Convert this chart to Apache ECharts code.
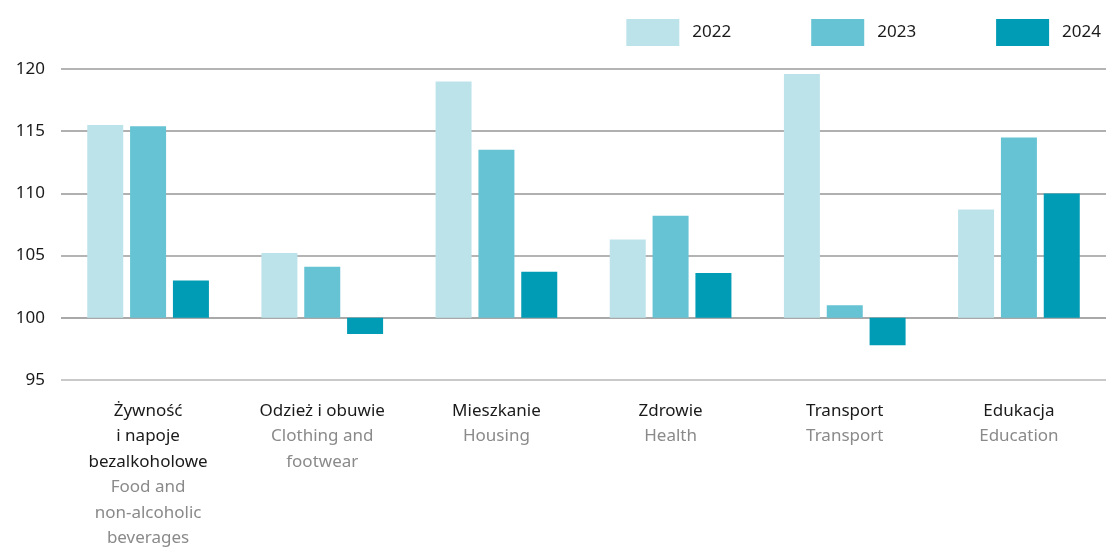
<!DOCTYPE html>
<html>
<head>
<meta charset="utf-8">
<script src="https://cdn.jsdelivr.net/npm/echarts@6/dist/echarts.min.js"></script>
<style>
  html, body { margin: 0; padding: 0; background: #fff; }
  #chart { width: 1106px; height: 548px; }
</style>
</head>
<body>
<div id="chart"></div>
<script>
// categories (Polish / English)
const categoriesPl = [
  ["Żywność", "i napoje", "bezalkoholowe"],
  ["Odzież i obuwie"],
  ["Mieszkanie"],
  ["Zdrowie"],
  ["Transport"],
  ["Edukacja"]
];
const categoriesEn = [
  ["Food and", "non-alcoholic", "beverages"],
  ["Clothing and", "footwear"],
  ["Housing"],
  ["Health"],
  ["Transport"],
  ["Education"]
];

// index values, previous year = 100
const values2022 = [115.5, 105.2, 119.0, 106.3, 119.6, 108.7];
const values2023 = [115.4, 104.1, 113.5, 108.2, 101.0, 114.5];
const values2024 = [103.0, 98.7, 103.7, 103.6, 97.8, 110.0];

const baseValue = 100;
const yMin = 95, yMax = 120, yStep = 5;

const chart = echarts.init(document.getElementById("chart"));

// bars grow from 100, so plot the difference and label the axis back
const delta = arr => arr.map(v => +(v - baseValue).toFixed(2));

const font = "Noto Sans";

const options = {
  animation: false,
  textStyle: { fontFamily: font },
  legend: {
    top: 14,
    right: 0,
    itemWidth: 53,
    itemHeight: 27,
    itemGap: 80,
    icon: "rect",
    textStyle: { fontSize: 17, color: "#1a1a1a", fontFamily: font, padding: [0, 0, 0, 8] },
    data: ["2022", "2023", "2024"]
  },
  grid: { left: 61, right: 0, top: 69, bottom: 168, containLabel: false, outerBoundsMode: "none" },
  xAxis: {
    type: "category",
    data: categoriesPl.map((_, i) => i),
    axisLine: { show: false, onZero: false },
    axisTick: { show: false },
    axisLabel: {
      interval: 0,
      margin: 18,
      lineHeight: 25.5,
      formatter: (v, i) => {
        const pl = categoriesPl[i].map(s => "{pl|" + s + "}");
        const en = categoriesEn[i].map(s => "{en|" + s + "}");
        return pl.concat(en).join("\n");
      },
      rich: {
        pl: { fontSize: 17, color: "#1a1a1a", fontFamily: font, lineHeight: 25.5 },
        en: { fontSize: 17, color: "#8a8a8a", fontFamily: font, lineHeight: 25.5 }
      }
    }
  },
  yAxis: {
    type: "value",
    min: yMin - baseValue,
    max: yMax - baseValue,
    interval: yStep,
    axisLine: { show: false },
    axisTick: { show: false },
    axisLabel: {
      margin: 16,
      fontSize: 17,
      color: "#1a1a1a",
      formatter: v => String(v + baseValue)
    },
    splitLine: {
      lineStyle: {
        width: 2,
        color: ["#c9c9c9", "#a9a9a9", "#b4b4b4", "#b0b0b0", "#b0b0b0", "#b4b4b4"]
      }
    }
  },
  series: [
    {
      name: "2022",
      type: "bar",
      data: delta(values2022),
      itemStyle: { color: "#bde3ea" },
      barWidth: 36,
      barGap: "19%",
      barCategoryGap: "30%"
    },
    {
      name: "2023",
      type: "bar",
      data: delta(values2023),
      itemStyle: { color: "#65c3d3" },
      barWidth: 36,
      barGap: "19%"
    },
    {
      name: "2024",
      type: "bar",
      data: delta(values2024),
      itemStyle: { color: "#009bb4" },
      barWidth: 36,
      barGap: "19%"
    }
  ]
};

chart.setOption(options);
</script>
</body>
</html>
